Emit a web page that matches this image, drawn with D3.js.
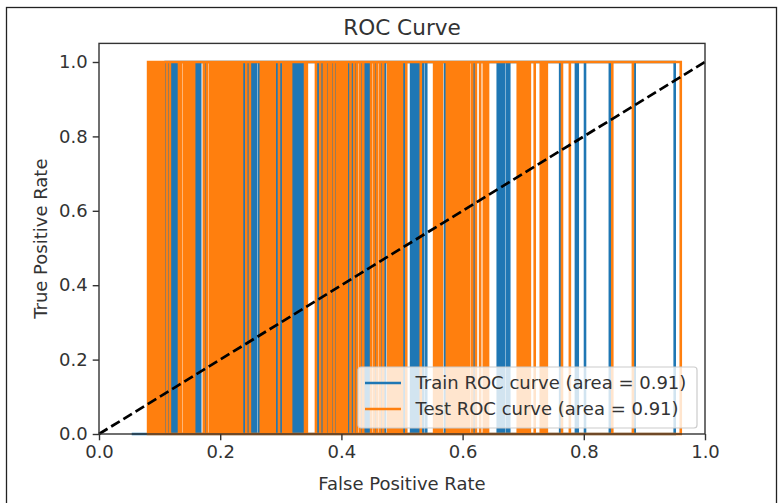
<!DOCTYPE html>
<html>
<head>
<meta charset="utf-8">
<script src="https://cdn.jsdelivr.net/npm/d3@7"></script>
<style>
  html, body { margin: 0; padding: 0; background: #fff; }
  svg { display: block; font-family: "DejaVu Sans", sans-serif; }
</style>
</head>
<body>
<svg id="chart" width="781" height="503"></svg>
<script>
// ---- data ----
const titleText = "ROC Curve";
const xLabel = "False Positive Rate";
const yLabel = "True Positive Rate";
const xTicks = [0.0, 0.2, 0.4, 0.6, 0.8, 1.0];
const yTicks = [0.0, 0.2, 0.4, 0.6, 0.8, 1.0];
const seriesNames = ["Train ROC curve (area = 0.91)", "Test ROC curve (area = 0.91)"];

// FPR positions where each curve jumps between TPR 0 and TPR 1
const trainStart = 0.054;
const trainSteps = [0.110,0.115,0.119,0.122,0.125,0.129,0.160,0.163,0.167,0.176,0.239,0.246,0.252,0.256,0.259,0.264,
  0.294,0.300,0.320,0.323,0.327,0.330,0.333,0.337,0.361,0.368,0.377,0.385,0.391,0.413,0.417,0.423,0.433,0.439,0.442,
  0.446,0.456,0.467,0.472,0.503,0.515,0.518,0.521,0.525,0.528,0.535,0.540,0.571,0.619,0.658,0.662,0.665,0.668,0.673,
  0.677,0.761,0.787,0.790,0.802,0.843,0.884,0.950];
const testStart = 0.081;
const testSteps = [0.081,0.084,0.087,0.091,0.094,0.097,0.101,0.104,0.107,0.112,0.117,0.132,0.135,0.140,0.144,0.147,
  0.150,0.153,0.157,0.173,0.178,0.183,0.186,0.190,0.193,0.196,0.200,0.203,0.206,0.210,0.213,0.216,0.219,0.223,0.226,
  0.229,0.233,0.236,0.243,0.249,0.267,0.271,0.274,0.277,0.281,0.284,0.287,0.290,0.297,0.304,0.307,0.310,0.314,0.317,
  0.340,0.343,0.358,0.365,0.371,0.375,0.380,0.383,0.388,0.393,0.396,0.399,0.403,0.406,0.409,0.415,0.421,0.426,0.431,
  0.436,0.449,0.454,0.459,0.464,0.469,0.477,0.480,0.483,0.487,0.490,0.493,0.497,0.500,0.507,0.531,0.553,0.556,0.559,
  0.563,0.566,0.574,0.578,0.581,0.584,0.587,0.591,0.594,0.597,0.601,0.604,0.607,0.611,0.616,0.622,0.629,0.635,0.639,
  0.642,0.691,0.695,0.698,0.701,0.705,0.708,0.711,0.719,0.729,0.733,0.736,0.739,0.764,0.777,0.847,0.881,0.960];
const tprLevels = [0, 1];
const chanceLine = [[0, 0], [1, 1]];

// ---- layout ----
const colors = ["#1f77b4", "#ff7f0e"];
const svg = d3.select("#chart");
const mLeft = 99, mRight = 705, mTop = 43.4, mBottom = 434;
const x = d3.scaleLinear().domain([0, 1]).range([mLeft, mRight]);
const y = d3.scaleLinear().domain([0, 1.05]).range([mBottom, mTop]);

// outer frame of the screenshot
svg.append("rect").attr("x", 6.5).attr("y", 7.5).attr("width", 770).attr("height", 500)
  .attr("fill", "none").attr("stroke", "#222").attr("stroke-width", 1.3);

// the curve sweeps forward through its jump positions and back again,
// flipping between TPR 0 and TPR 1 at every jump
function stepPoints(start, steps) {
  const seq = steps.concat(steps.slice(0, -1).reverse());
  const pts = [[start, tprLevels[0]]];
  let level = 0;
  seq.forEach(s => {
    pts.push([s, tprLevels[level]]);
    level = 1 - level;
    pts.push([s, tprLevels[level]]);
  });
  return pts;
}
const line = d3.line().x(d => x(d[0])).y(d => y(d[1]));

const plot = svg.append("g");
[[trainStart, trainSteps], [testStart, testSteps]].forEach(([st, steps], i) => {
  plot.append("path").datum(stepPoints(st, steps))
    .attr("d", line).attr("fill", "none")
    .attr("stroke", colors[i]).attr("stroke-width", 2.6)
    .attr("stroke-linejoin", "miter").attr("stroke-linecap", "butt");
});

// chance diagonal
plot.append("path").datum(chanceLine).attr("d", line)
  .attr("fill", "none").attr("stroke", "#000").attr("stroke-width", 2.7)
  .attr("stroke-dasharray", "10,4.3");

// axes
const fmt = d3.format(".1f");
const xAxis = svg.append("g").attr("transform", `translate(0,${mBottom})`)
  .call(d3.axisBottom(x).tickValues(xTicks).tickFormat(fmt).tickSize(6.3).tickPadding(5));
const yAxis = svg.append("g").attr("transform", `translate(${mLeft},0)`)
  .call(d3.axisLeft(y).tickValues(yTicks).tickFormat(fmt).tickSize(6.3).tickPadding(5));
[xAxis, yAxis].forEach(g => {
  g.select(".domain").remove();
  g.selectAll("line").attr("stroke", "#333").attr("stroke-width", 1.4);
  g.selectAll("text").attr("fill", "#333").style("font-size", "18px").style("font-family", "DejaVu Sans");
});

// spines
svg.append("rect").attr("x", mLeft).attr("y", mTop).attr("width", mRight - mLeft).attr("height", mBottom - mTop)
  .attr("fill", "none").attr("stroke", "#333").attr("stroke-width", 1.4);

// title and labels
svg.append("text").attr("x", (mLeft + mRight) / 2).attr("y", 35).attr("text-anchor", "middle")
  .attr("fill", "#333").style("font-size", "21.6px").text(titleText);
svg.append("text").attr("x", (mLeft + mRight) / 2).attr("y", 490).attr("text-anchor", "middle")
  .attr("fill", "#333").style("font-size", "18px").text(xLabel);
svg.append("text").attr("transform", `translate(46.5,${(mTop + mBottom) / 2}) rotate(-90)`)
  .attr("text-anchor", "middle").attr("fill", "#333").style("font-size", "18px").text(yLabel);

// legend (lower right)
const lg = svg.append("g").attr("transform", "translate(358,367)");
lg.append("rect").attr("width", 339).attr("height", 61).attr("rx", 3)
  .attr("fill", "#fff").attr("fill-opacity", 0.8).attr("stroke", "#ccc").attr("stroke-width", 1.2);
seriesNames.forEach((name, i) => {
  const cy = 16 + i * 26;
  lg.append("line").attr("x1", 7).attr("x2", 43).attr("y1", cy).attr("y2", cy)
    .attr("stroke", colors[i]).attr("stroke-width", 2.7);
  lg.append("text").attr("x", 57.5).attr("y", cy).attr("dy", "0.35em")
    .attr("fill", "#333").style("font-size", "18px").text(name);
});
</script>
</body>
</html>
